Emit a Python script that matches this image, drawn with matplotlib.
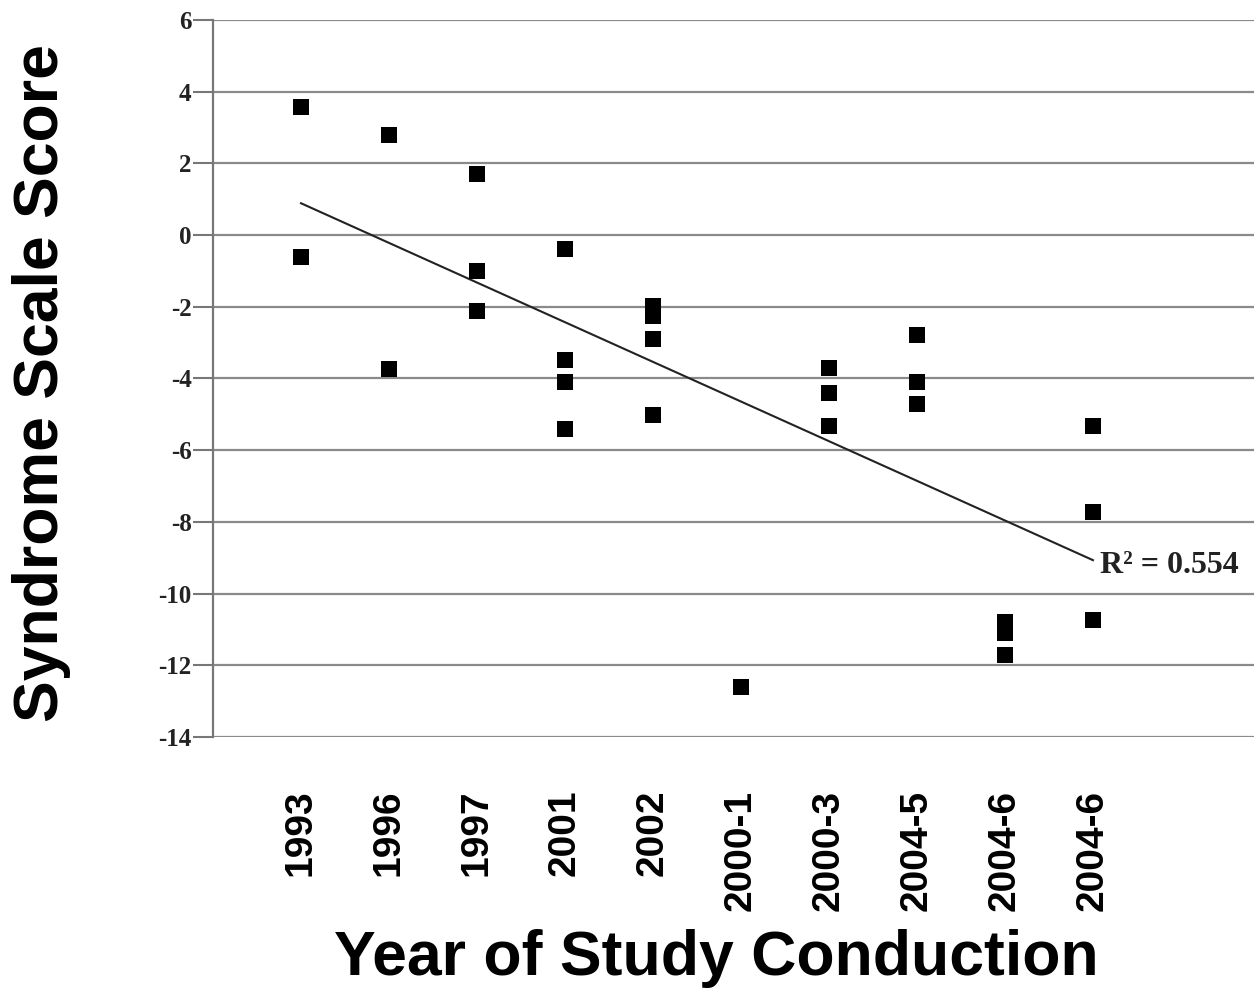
import numpy as np
import matplotlib
matplotlib.use("Agg")
import matplotlib.pyplot as plt

categories = ["1993", "1996", "1997", "2001", "2002", "2000-1", "2000-3", "2004-5", "2004-6", "2004-6"]
scores = [
    [3.57, -0.61],
    [2.79, -3.74],
    [1.70, -1.00, -2.12],
    [-0.39, -3.49, -4.10, -5.41],
    [-1.98, -2.26, -2.90, -5.02],
    [-12.61],
    [-3.71, -4.41, -5.33],
    [-2.79, -4.10, -4.71],
    [-10.79, -11.10, -11.72],
    [-5.33, -7.73, -10.74],
]
yticks = [6, 4, 2, 0, -2, -4, -6, -8, -10, -12, -14]
r2_text = "R\u00b2 = 0.554"

fig = plt.figure(figsize=(12.54, 9.91), dpi=100)
ax = fig.add_axes([213/1254, 1-737/991, 1-213/1254, (737-20)/991])

xs, ys = [], []
for i, vals in enumerate(scores):
    for v in vals:
        xs.append(i)
        ys.append(v)
xs = np.array(xs, float)
ys = np.array(ys, float)

ax.scatter(xs, ys, marker="s", s=12**2, color="black", zorder=3, linewidths=0)

slope, intercept = np.polyfit(xs, ys, 1)
xl = np.array([0, len(categories) - 1], float)
ax.plot(xl, slope*xl + intercept, color="#222222", lw=1.5, zorder=2)

ax.text(9.08, slope*9 + intercept - 0.15, r2_text, fontfamily="Liberation Serif",
        fontweight="bold", fontsize=23, va="center", ha="left", color="#222222")

ax.set_ylim(-14, 6)
ax.set_xlim(-1, 10.83)
ax.set_yticks(yticks)
ax.set_yticklabels([str(t) for t in yticks], fontfamily="Liberation Serif",
                   fontweight="bold", fontsize=18, color="#222222")
ax.tick_params(axis="y", length=14.4, width=1.5, color="#777777", pad=1)
ax.set_xticks(range(len(categories)))
ax.set_xticklabels(categories, rotation=90, fontfamily="Liberation Sans",
                   fontweight="bold", fontsize=28, va="top", ha="center")
ax.tick_params(axis="x", length=0, pad=38)

for t in yticks:
    ax.axhline(t, color="#8a8a8a", lw=1.6, zorder=1)

for s in ["top", "right", "bottom"]:
    ax.spines[s].set_visible(False)
ax.spines["left"].set_color("#777777")
ax.spines["left"].set_linewidth(1.6)

fig.text(42/1254, 1-383/991, "Syndrome Scale Score", rotation=90,
         fontfamily="Liberation Sans", fontweight="bold", fontsize=45,
         ha="center", va="center")
fig.text(716/1254, 1-958/991, "Year of Study Conduction",
         fontfamily="Liberation Sans", fontweight="bold", fontsize=45,
         ha="center", va="center")

fig.savefig("out.png", dpi=100)
